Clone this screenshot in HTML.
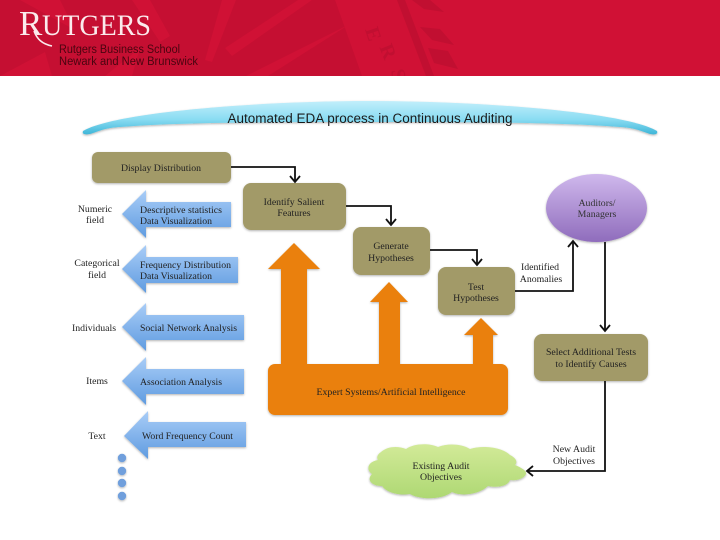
<!DOCTYPE html>
<html><head><meta charset="utf-8"><style>
html,body{margin:0;padding:0;background:#fff;width:720px;height:540px;overflow:hidden}
svg{display:block;filter:blur(.3px)}
text{font-family:"Liberation Serif",serif;font-size:9.8px;fill:#222;text-anchor:middle}
.s{font-family:"Liberation Sans",sans-serif}
.l{text-anchor:start}
</style></head><body>
<svg width="720" height="540" viewBox="0 0 720 540" xmlns="http://www.w3.org/2000/svg">
<defs>
<linearGradient id="bl" x1="0" y1="0" x2="0" y2="1"><stop offset="0" stop-color="#a9cdf7"/><stop offset="1" stop-color="#5f9be0"/></linearGradient>
<linearGradient id="ban" x1="0" y1="0" x2="0" y2="1"><stop offset="0" stop-color="#c2eefb"/><stop offset="0.55" stop-color="#8adcf2"/><stop offset="1" stop-color="#3fb6d8"/></linearGradient>
<linearGradient id="pu" x1="0" y1="0" x2="0" y2="1"><stop offset="0" stop-color="#cfb8ec"/><stop offset="1" stop-color="#8f6cbc"/></linearGradient>
<linearGradient id="gr" x1="0" y1="0" x2="0" y2="1"><stop offset="0" stop-color="#d2ea98"/><stop offset="1" stop-color="#aed873"/></linearGradient>
<filter id="sh" x="-10%" y="-10%" width="120%" height="125%"><feDropShadow dx="0" dy="1" stdDeviation="1" flood-color="#000" flood-opacity=".3"/></filter>
<clipPath id="hd"><rect width="720" height="76"/></clipPath>
</defs>

<rect width="720" height="76" fill="#d01135"/>
<g clip-path="url(#hd)">
<path d="M0 0H345L370 76H0Z" fill="#c50f32"/>
<g fill="#d01135">
<path d="M205 60L222 0H236L212 62Z"/>
<path d="M160 42L132 0H150L170 36Z"/>
<path d="M225 48L298 0H312L232 56Z"/>
<path d="M246 76L350 24L268 76Z"/>
<path d="M105 76L140 48L132 76Z"/>
<path d="M0 76L45 52L52 76Z"/>
<path d="M20 0L75 30L60 0Z"/>
<path d="M335 0H397L426 76H362Z"/>
</g>
<path d="M397 0H405L434 76H426Z" fill="#c10f31"/>
<g fill="#c10f31">
<path d="M412 0h18l14 12-20-3z"/><path d="M420 27l20 2 14 16-22-5z"/><path d="M428 48l20 3 10 18-24-6z"/>
</g>
<text transform="translate(367 36) rotate(72)" style="font-size:20px;fill:#c10f31;font-weight:bold">E</text>
<text transform="translate(382 54) rotate(68)" style="font-size:20px;fill:#c10f31;font-weight:bold">R</text>
<text transform="translate(392 76) rotate(78)" style="font-size:20px;fill:#c10f31;font-weight:bold">S</text>
</g>
<text x="19" y="35" style="font-size:35px;fill:#fbeaec;text-anchor:start">R</text>
<path d="M34 31C37 39 42 44 52 46" stroke="#fbeaec" stroke-width="1.6" fill="none"/>
<text x="42" y="35" style="font-size:30px;fill:#fbeaec;text-anchor:start" textLength="109" lengthAdjust="spacingAndGlyphs">UTGERS</text>
<text x="59" y="53" class="s l" style="font-size:11.5px;fill:#4a0510" textLength="121" lengthAdjust="spacingAndGlyphs">Rutgers Business School</text>
<text x="59" y="65" class="s l" style="font-size:11.5px;fill:#4a0510" textLength="139" lengthAdjust="spacingAndGlyphs">Newark and New Brunswick</text>

<path d="M83 131C115 112 260 101 370 101C480 101 625 112 657 131C658 134 656 135 650 134C640 131 636 128 620 127C560 122 460 122 370 122C280 122 180 122 120 127C104 128 100 131 90 134C84 135 82 134 83 131Z" fill="url(#ban)" filter="url(#sh)"/>
<text x="370" y="123" class="s" style="font-size:13.5px;fill:#1a1a1a" textLength="285" lengthAdjust="spacingAndGlyphs">Automated EDA process in Continuous Auditing</text>

<g fill="#a29a68" filter="url(#sh)">
<rect x="92" y="152" width="139" height="31" rx="6"/>
<rect x="243" y="183" width="103" height="47" rx="8"/>
<rect x="353" y="227" width="77" height="48" rx="8"/>
<rect x="438" y="267" width="77" height="48" rx="8"/>
<rect x="534" y="334" width="114" height="47" rx="8"/>
</g>

<ellipse cx="596.500" cy="208" rx="50.500" ry="34" fill="url(#pu)" filter="url(#sh)"/>

<g fill="url(#bl)" filter="url(#sh)">
<path d="M122 214L146 190V202H231V227H146V238Z"/>
<path d="M122 269L146 245V257H238V283H146V293Z"/>
<path d="M122 327L146 303V315H244V340H146V351Z"/>
<path d="M122 381L146 357V369H244V394H146V405Z"/>
<path d="M124 436L148 411V422H246V447H148V459Z"/>
</g>
<g fill="#6f9fdc" filter="url(#sh)">
<circle cx="122" cy="458" r="4.200"/><circle cx="122" cy="471" r="4.200"/><circle cx="122" cy="483" r="4.200"/><circle cx="122" cy="496" r="4.200"/>
</g>

<g fill="#ea8008" filter="url(#sh)">
<path d="M281 366V269H268L294 243L320 269H307V366Z"/>
<path d="M379 366V302H370L389 282L408 302H400V366Z"/>
<path d="M473 366V335H464L481 318L498 335H493V366Z"/>
<rect x="268" y="364" width="240" height="51" rx="7"/>
</g>

<path d="M381 452C388 446 398 446 406 449C414 443 430 443 438 447C448 443 462 444 470 449C482 445 502 447 510 455C516 458 518 462 515 465C522 468 527 471 526 474C524 479 516 481 510 480C508 486 498 488 488 486C480 494 462 497 452 492C442 500 420 500 410 494C398 496 386 492 382 486C372 486 366 480 372 474C366 470 367 462 378 460C376 457 378 454 381 452Z" fill="url(#gr)" filter="url(#sh)"/>

<g fill="none" stroke="#111" stroke-width="1.800">
<path d="M231 167H295V181"/><path d="M290 176L295 182L300 176"/>
<path d="M346 206H391V224"/><path d="M386 219L391 225L396 219"/>
<path d="M430 250H477V264"/><path d="M472 259L477 265L482 259"/>
<path d="M515 291H573V242"/><path d="M568 247L573 241L578 247"/>
<path d="M605 242V330"/><path d="M600 325L605 331L610 325"/>
<path d="M605 381V471H528"/><path d="M533 466L527 471L533 476"/>
</g>

<text x="161" y="171" textLength="80" lengthAdjust="spacingAndGlyphs">Display Distribution</text>
<text x="294" y="205">Identify Salient</text><text x="294" y="216">Features</text>
<text x="391" y="249">Generate</text><text x="391" y="261">Hypotheses</text>
<text x="476" y="290">Test</text><text x="476" y="301">Hypotheses</text>
<text x="597" y="206" style="fill:#333">Auditors/</text><text x="597" y="217" style="fill:#333">Managers</text>
<text x="591" y="355">Select Additional Tests</text><text x="591" y="367">to Identify Causes</text>
<text x="391" y="395" textLength="149" lengthAdjust="spacingAndGlyphs">Expert Systems/Artificial Intelligence</text>
<text x="441" y="469">Existing Audit</text><text x="441" y="480">Objectives</text>
<text x="540" y="270">Identified</text><text x="541" y="282">Anomalies</text>
<text x="574" y="452">New Audit</text><text x="574" y="464">Objectives</text>

<text x="95" y="212">Numeric</text><text x="95" y="223">field</text>
<text x="97" y="266">Categorical</text><text x="97" y="278">field</text>
<text x="94" y="331">Individuals</text><text x="97" y="384">Items</text><text x="97" y="439">Text</text>

<text x="140" y="213" class="l" textLength="82" lengthAdjust="spacingAndGlyphs">Descriptive statistics</text>
<text x="140" y="224" class="l" textLength="72" lengthAdjust="spacingAndGlyphs">Data Visualization</text>
<text x="140" y="268" class="l" textLength="91" lengthAdjust="spacingAndGlyphs">Frequency Distribution</text>
<text x="140" y="279" class="l" textLength="72" lengthAdjust="spacingAndGlyphs">Data Visualization</text>
<text x="140" y="331" class="l" textLength="97" lengthAdjust="spacingAndGlyphs">Social Network Analysis</text>
<text x="140" y="385" class="l" textLength="82" lengthAdjust="spacingAndGlyphs">Association Analysis</text>
<text x="142" y="439" class="l" textLength="91" lengthAdjust="spacingAndGlyphs">Word Frequency Count</text>
</svg>
</body></html>
